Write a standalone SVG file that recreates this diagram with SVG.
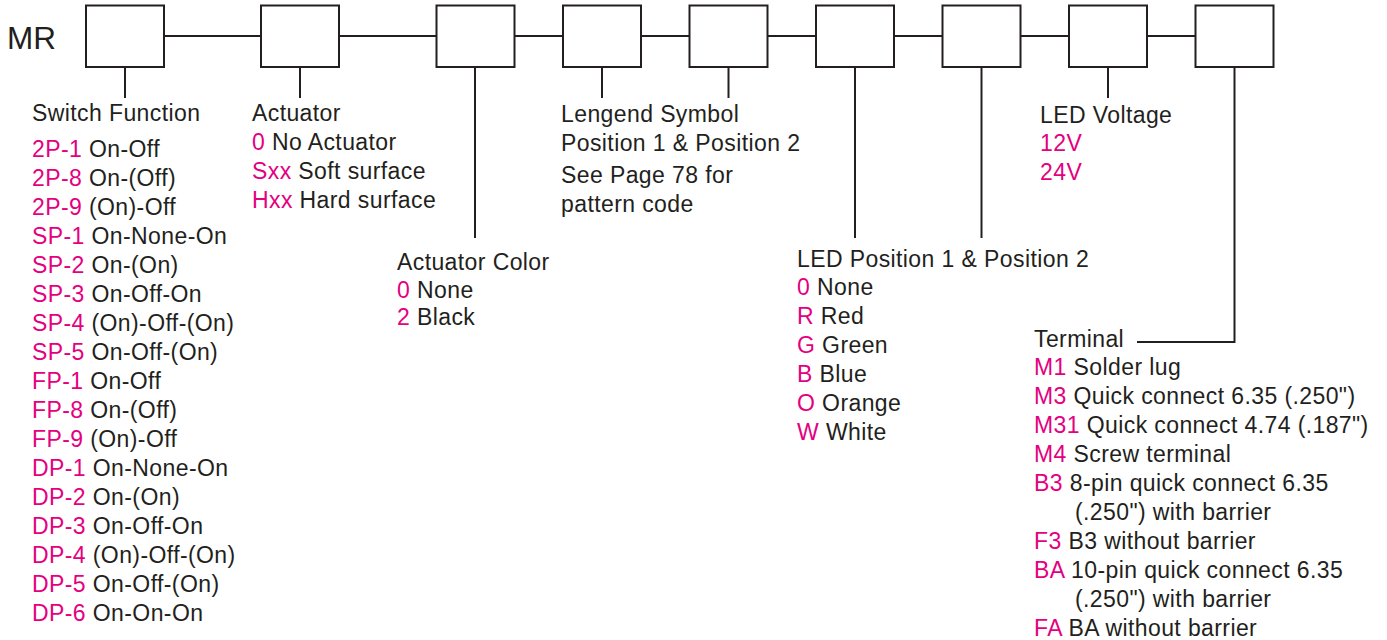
<svg xmlns="http://www.w3.org/2000/svg" width="1387" height="640" viewBox="0 0 1387 640">
<style>
text{font-family:"Liberation Sans",Arial,sans-serif;font-size:23px;fill:#231F20;letter-spacing:0.4px}
.c{fill:#E4007F}
.mr{font-size:31.5px;letter-spacing:0}
.box{fill:#fff;stroke:#231F20;stroke-width:2}
.ln{stroke:#231F20;stroke-width:2;fill:none}
</style>
<rect width="1387" height="640" fill="#fff"/>
<g id="connectors">
<line class="ln" x1="164" y1="36" x2="1195" y2="36"/>
<line class="ln" x1="125" y1="67" x2="125" y2="98"/>
<line class="ln" x1="300" y1="67" x2="300" y2="98"/>
<line class="ln" x1="475" y1="67" x2="475" y2="238"/>
<line class="ln" x1="602" y1="67" x2="602" y2="98"/>
<line class="ln" x1="728.5" y1="67" x2="728.5" y2="98"/>
<line class="ln" x1="855" y1="67" x2="855" y2="238"/>
<line class="ln" x1="981.5" y1="67" x2="981.5" y2="238"/>
<line class="ln" x1="1108" y1="67" x2="1108" y2="98"/>
<polyline class="ln" points="1234.5,67 1234.5,342 1137,342"/>
</g>
<text id="prefix" class="mr" x="7" y="48.5">MR</text>
<g id="n1"><rect class="box" x="86" y="5.5" width="78" height="61.5"/></g>
<g id="n2"><rect class="box" x="261" y="5.5" width="78" height="61.5"/></g>
<g id="n3"><rect class="box" x="436.5" y="5.5" width="78" height="61.5"/></g>
<g id="n4"><rect class="box" x="563" y="5.5" width="78" height="61.5"/></g>
<g id="n5"><rect class="box" x="689.5" y="5.5" width="78" height="61.5"/></g>
<g id="n6"><rect class="box" x="816" y="5.5" width="78" height="61.5"/></g>
<g id="n7"><rect class="box" x="942.5" y="5.5" width="78" height="61.5"/></g>
<g id="n8"><rect class="box" x="1069" y="5.5" width="78" height="61.5"/></g>
<g id="n9"><rect class="box" x="1195.5" y="5.5" width="78" height="61.5"/></g>
<g id="switch-function">
<text x="32" y="121">Switch Function</text>
<text x="32" y="157"><tspan class="c">2P-1</tspan> On-Off</text>
<text x="32" y="186"><tspan class="c">2P-8</tspan> On-(Off)</text>
<text x="32" y="215"><tspan class="c">2P-9</tspan> (On)-Off</text>
<text x="32" y="244"><tspan class="c">SP-1</tspan> On-None-On</text>
<text x="32" y="273"><tspan class="c">SP-2</tspan> On-(On)</text>
<text x="32" y="302"><tspan class="c">SP-3</tspan> On-Off-On</text>
<text x="32" y="331"><tspan class="c">SP-4</tspan> (On)-Off-(On)</text>
<text x="32" y="360"><tspan class="c">SP-5</tspan> On-Off-(On)</text>
<text x="32" y="389"><tspan class="c">FP-1</tspan> On-Off</text>
<text x="32" y="418"><tspan class="c">FP-8</tspan> On-(Off)</text>
<text x="32" y="447"><tspan class="c">FP-9</tspan> (On)-Off</text>
<text x="32" y="476"><tspan class="c">DP-1</tspan> On-None-On</text>
<text x="32" y="505"><tspan class="c">DP-2</tspan> On-(On)</text>
<text x="32" y="534"><tspan class="c">DP-3</tspan> On-Off-On</text>
<text x="32" y="563"><tspan class="c">DP-4</tspan> (On)-Off-(On)</text>
<text x="32" y="592"><tspan class="c">DP-5</tspan> On-Off-(On)</text>
<text x="32" y="621"><tspan class="c">DP-6</tspan> On-On-On</text>
</g>
<g id="actuator">
<text x="252" y="121">Actuator</text>
<text x="252" y="150"><tspan class="c">0</tspan> No Actuator</text>
<text x="252" y="179"><tspan class="c">Sxx</tspan> Soft surface</text>
<text x="252" y="208"><tspan class="c">Hxx</tspan> Hard surface</text>
</g>
<g id="actuator-color">
<text x="397" y="270">Actuator Color</text>
<text x="397" y="298"><tspan class="c">0</tspan> None</text>
<text x="397" y="325"><tspan class="c">2</tspan> Black</text>
</g>
<g id="legend-symbol">
<text x="561" y="122">Lengend Symbol</text>
<text x="561" y="151">Position 1 &amp; Position 2</text>
<text x="561" y="183">See Page 78 for</text>
<text x="561" y="212">pattern code</text>
</g>
<g id="led-position">
<text x="797" y="267">LED Position 1 &amp; Position 2</text>
<text x="797" y="295"><tspan class="c">0</tspan> None</text>
<text x="797" y="324"><tspan class="c">R</tspan> Red</text>
<text x="797" y="353"><tspan class="c">G</tspan> Green</text>
<text x="797" y="382"><tspan class="c">B</tspan> Blue</text>
<text x="797" y="411"><tspan class="c">O</tspan> Orange</text>
<text x="797" y="440"><tspan class="c">W</tspan> White</text>
</g>
<g id="led-voltage">
<text x="1040" y="123">LED Voltage</text>
<text x="1040" y="151" class="c">12V</text>
<text x="1040" y="180" class="c">24V</text>
</g>
<g id="terminal">
<text x="1034" y="347">Terminal</text>
<text x="1034" y="375"><tspan class="c">M1</tspan> Solder lug</text>
<text x="1034" y="404"><tspan class="c">M3</tspan> Quick connect 6.35 (.250")</text>
<text x="1034" y="433"><tspan class="c">M31</tspan> Quick connect 4.74 (.187")</text>
<text x="1034" y="462"><tspan class="c">M4</tspan> Screw terminal</text>
<text x="1034" y="491"><tspan class="c">B3</tspan> 8-pin quick connect 6.35</text>
<text x="1075" y="520">(.250") with barrier</text>
<text x="1034" y="549"><tspan class="c">F3</tspan> B3 without barrier</text>
<text x="1034" y="578"><tspan class="c">BA</tspan> 10-pin quick connect 6.35</text>
<text x="1075" y="607">(.250") with barrier</text>
<text x="1034" y="636"><tspan class="c">FA</tspan> BA without barrier</text>
</g>
</svg>
